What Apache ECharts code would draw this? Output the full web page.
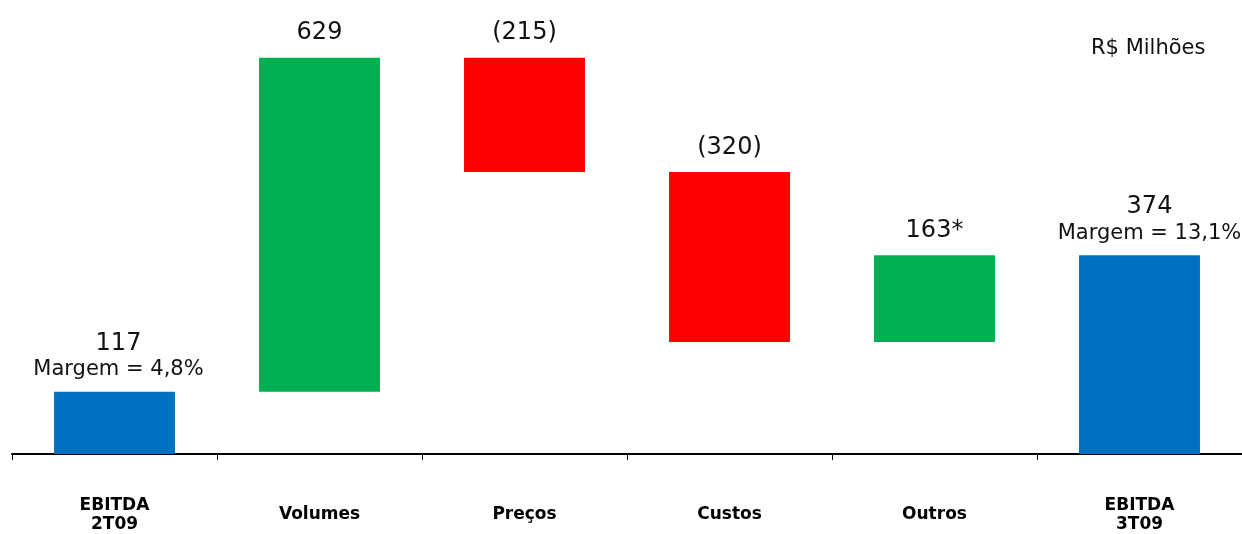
<!DOCTYPE html>
<html><head><meta charset="utf-8">
<script src="https://cdn.jsdelivr.net/npm/echarts@6/dist/echarts.min.js"></script>
<style>html,body{margin:0;padding:0;background:#fff;overflow:hidden}#c{width:1242px;height:534px}</style>
</head><body><div id="c"></div>
<script>
const categories = ['EBITDA\n2T09', 'Volumes', 'Preços', 'Custos', 'Outros', 'EBITDA\n3T09'];
const deltas = [117, 629, -215, -320, 163, 374];
const kinds = ['total', 'delta', 'delta', 'delta', 'delta', 'total'];
const valueLabels = ['117', '629', '(215)', '(320)', '163*', '374'];
const marginLabels = ['Margem = 4,8%', '', '', '', '', 'Margem = 13,1%'];
const colors = { total: '#0070C0', up: '#00B050', down: '#FF0000' };
const labelShift = { 0: 4, 5: 10 };

const base = [], visible = [];
let run = 0;
deltas.forEach((d, i) => {
  if (kinds[i] === 'total') { base.push(0); visible.push(d); run = d; }
  else if (d >= 0) { base.push(run); visible.push(d); run += d; }
  else { run += d; base.push(run); visible.push(-d); }
});

const chart = echarts.init(document.getElementById('c'));
chart.setOption({
  animation: false,
  title: { text: 'R$ Milhões', left: 1086, top: 33, textStyle: { fontFamily: 'DejaVu Sans', fontSize: 21, fontWeight: 'normal', color: '#111' } },
  grid: { left: 12, right: 0, top: 29, height: 429, containLabel: false },
  xAxis: {
    type: 'category', data: categories,
    axisLine: { lineStyle: { color: '#000', width: 2 } },
    axisTick: { show: true, length: 6, lineStyle: { color: '#000', width: 1 } },
    axisLabel: { margin: 61, verticalAlign: 'middle', fontFamily: 'DejaVu Sans', fontWeight: 'bold', fontSize: 17, lineHeight: 19, color: '#000' }
  },
  yAxis: { type: 'value', min: 0, max: 800, show: false, splitLine: { show: false } },
  series: [
    { type: 'bar', stack: 'w', data: base, barWidth: '59%', itemStyle: { color: 'transparent' }, silent: true },
    {
      type: 'bar', stack: 'w', barWidth: '59%',
      data: visible.map((v, i) => ({
        value: v,
        itemStyle: { color: kinds[i] === 'total' ? colors.total : (deltas[i] >= 0 ? colors.up : colors.down) },
        label: { offset: [labelShift[i] || 0, 0] }
      })),
      label: {
        show: true, position: 'top', distance: 10, color: '#111', fontFamily: 'DejaVu Sans',
        formatter: p => marginLabels[p.dataIndex] ? '{a|' + valueLabels[p.dataIndex] + '}\n{b|' + marginLabels[p.dataIndex] + '}' : '{a|' + valueLabels[p.dataIndex] + '}',
        rich: {
          a: { fontFamily: 'DejaVu Sans', fontSize: 24, lineHeight: 29, color: '#111' },
          b: { fontFamily: 'DejaVu Sans', fontSize: 21, lineHeight: 24, color: '#111' }
        }
      }
    }
  ]
});
</script></body></html>
